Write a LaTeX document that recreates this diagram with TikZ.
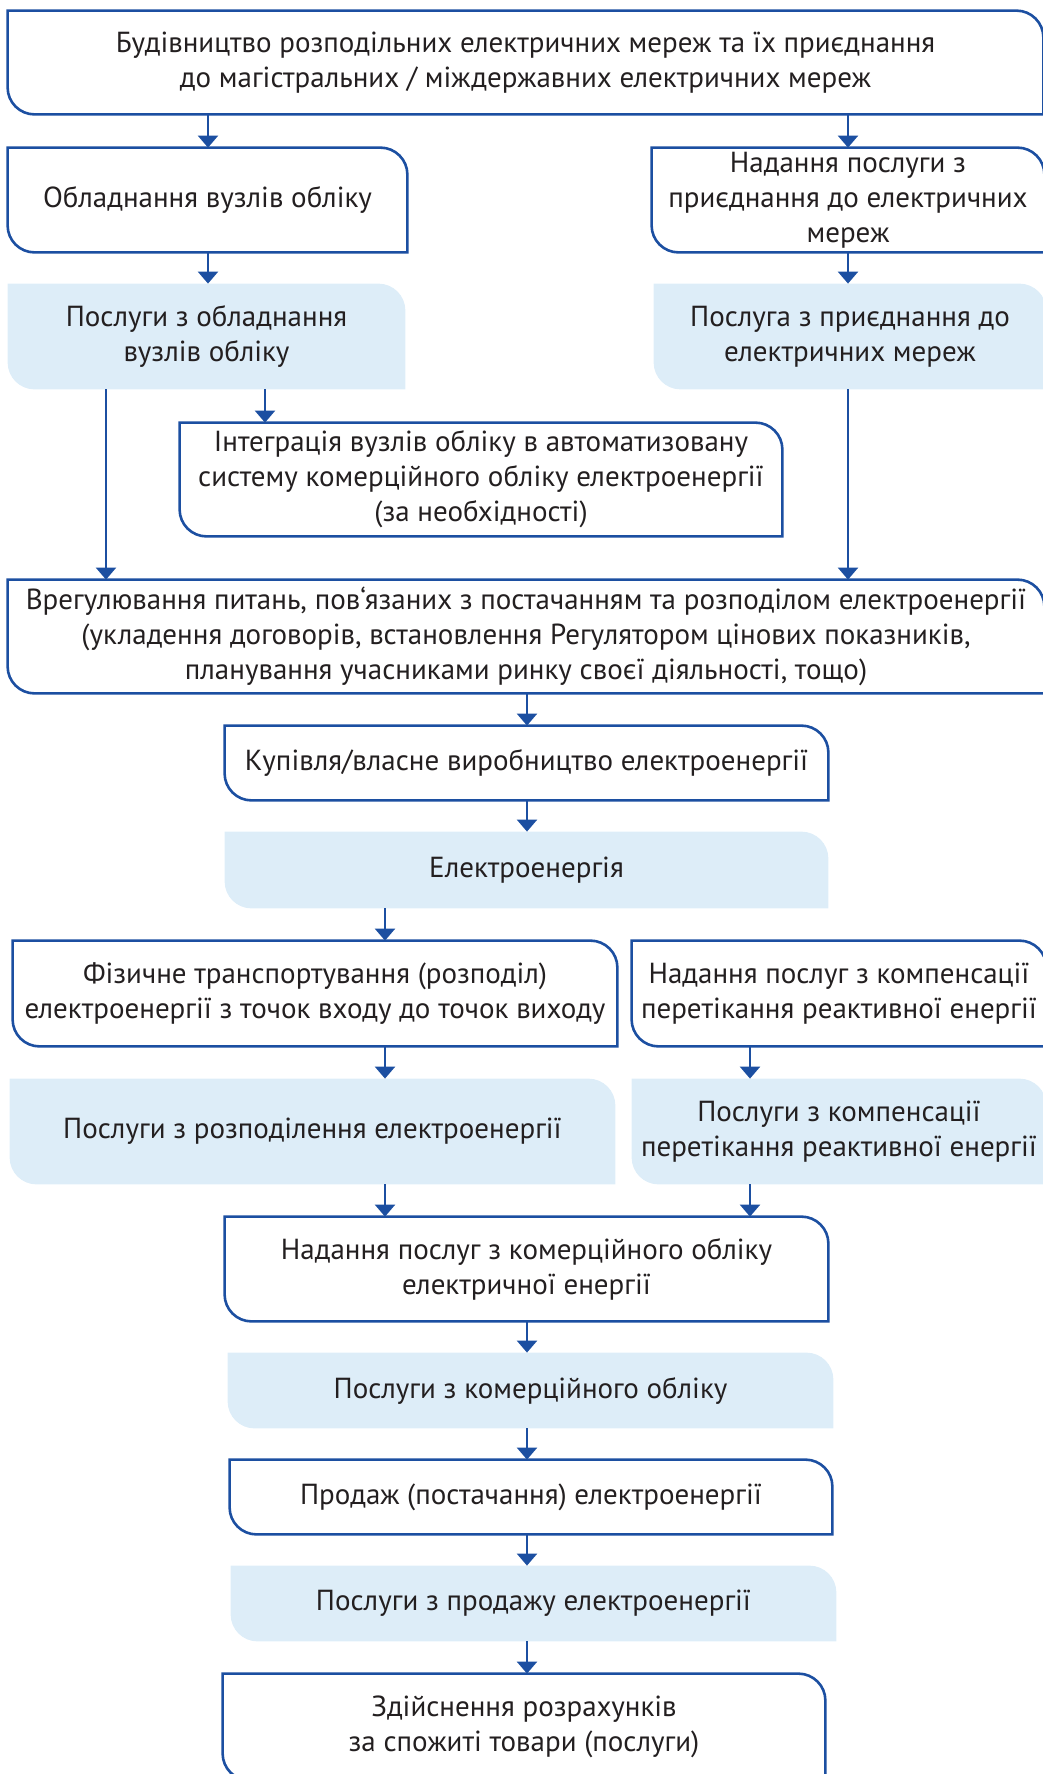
\documentclass[tikz,border=0pt]{standalone}
\usepackage{fontspec}
\setmainfont{PT Sans}
\usetikzlibrary{arrows.meta,backgrounds}

\definecolor{lineblue}{HTML}{1C4FA1}
\definecolor{boxfill}{HTML}{DDEDF8}
\definecolor{textgray}{HTML}{231F20}

\tikzset{
  box/.style={inner sep=0pt,align=center,text=textgray,font=\fontsize{14.5}{17.5}\selectfont},
  outline/.style={draw=lineblue,line width=1.3pt},
  flow/.style={draw=lineblue,line width=1.2pt,-{Triangle[width=10pt,length=6pt]}}
}

% box with rounded top right and bottom left corners
\newcommand\boxpath[1]{(#1.north west) -- ([xshift=-13.5pt]#1.north east)
  arc[start angle=90,end angle=0,radius=13.5pt] -- (#1.south east)
  -- ([xshift=13.5pt]#1.south west) arc[start angle=270,end angle=180,radius=13.5pt] -- cycle}

\begin{document}
\begin{tikzpicture}[x=0.5pt,y=-0.5pt]
        \useasboundingbox (0,0) rectangle (1043,1774);

        \begin{scope}[every node/.style={box}]
          \node[minimum width=517.5pt,minimum height=51.5pt] (1) at (525.5,62.5)
            {Будівництво розподільних електричних мереж та їх приєднання\\до магістральних / міждержавних електричних мереж};
          \node[minimum width=199.5pt,minimum height=52pt] (2) at (207.5,200) {Обладнання вузлів обліку};
          \node[minimum width=196pt,minimum height=52pt] (3) at (848,200)
            {Надання послуги з\\приєднання до електричних\\мереж};
          \node[minimum width=198.5pt,minimum height=52.5pt] (4) at (206.5,336.5) {Послуги з обладнання\\вузлів обліку};
          \node[minimum width=196pt,minimum height=52.5pt] (5) at (850,336.5) {Послуга з приєднання до\\електричних мереж};
          \node[minimum width=301pt,minimum height=56.5pt] (6) at (481,479.5)
            {Інтеграція вузлів обліку в автоматизовану\\систему комерційного обліку електроенергії\\(за необхідності)};
          \node[minimum width=518pt,minimum height=56.5pt] (7) at (526,636.5)
            {Врегулювання питань, пов`язаних з постачанням та розподілом електроенергії\\(укладення договорів, встановлення Регулятором цінових показників,\\планування учасниками ринку своєї діяльності, тощо)};
          \node[minimum width=301.5pt,minimum height=37pt] (8) at (526.5,763) {Купівля/власне виробництво електроенергії};
          \node[minimum width=301.5pt,minimum height=38pt] (9) at (526.5,870) {Електроенергія};
          \node[minimum width=302pt,minimum height=52.5pt] (10) at (315,993.5)
            {Фізичне транспортування (розподіл)\\електроенергії з точок входу до точок виходу};
          \node[minimum width=207pt,minimum height=52.5pt] (11) at (839,993.5)
            {Надання послуг з компенсації\\перетікання реактивної енергії};
          \node[minimum width=302.5pt,minimum height=52.5pt] (12) at (312.5,1131.5) {Послуги з розподілення електроенергії};
          \node[minimum width=207pt,minimum height=52.5pt] (13) at (839,1131.5)
            {Послуги з компенсації\\перетікання реактивної енергії};
          \node[minimum width=301.5pt,minimum height=52pt] (14) at (526.5,1269)
            {Надання послуг з комерційного обліку\\електричної енергії};
          \node[minimum width=302.5pt,minimum height=37.5pt] (15) at (530.5,1390.5) {Послуги з комерційного обліку};
          \node[minimum width=301pt,minimum height=37pt] (16) at (531,1497) {Продаж (постачання) електроенергії};
          \node[minimum width=302.5pt,minimum height=37.5pt] (17) at (533.5,1603.5) {Послуги з продажу електроенергії};
          \node[minimum width=301pt,minimum height=53pt] (18) at (524,1727)
            {Здійснення розрахунків\\за спожиті товари (послуги)};
        \end{scope}

        % light blue boxes
        \begin{scope}[on background layer]
          \foreach \n in {4,5,9,12,13,15,17}
            \fill[boxfill] \boxpath{\n};
        \end{scope}

        % white boxes
        \foreach \n in {1,2,3,6,7,8,10,11,14,16,18}
          \draw[outline] \boxpath{\n};

        \coordinate (ca) at (208,0);
        \coordinate (cb) at (848,0);
        \coordinate (cc) at (265,0);
        \coordinate (cd) at (106,0);
        \coordinate (ce) at (527,0);
        \coordinate (cf) at (385,0);
        \coordinate (cg) at (750,0);

        \draw[flow] (1.south -| ca) -- (2.north -| ca);
        \draw[flow] (1.south -| cb) -- (3.north -| cb);
        \draw[flow] (2.south -| ca) -- (4.north -| ca);
        \draw[flow] (3.south -| cb) -- (5.north -| cb);
        \draw[flow] (4.south -| cc) -- (6.north -| cc);
        \draw[flow] (4.south -| cd) -- (7.north -| cd);
        \draw[flow] (5.south -| cb) -- (7.north -| cb);
        \draw[flow] (7.south -| ce) -- (8.north -| ce);
        \draw[flow] (8.south -| ce) -- (9.north -| ce);
        \draw[flow] (9.south -| cf) -- (10.north -| cf);
        \draw[flow] (10.south -| cf) -- (12.north -| cf);
        \draw[flow] (11.south -| cg) -- (13.north -| cg);
        \draw[flow] (12.south -| cf) -- (14.north -| cf);
        \draw[flow] (13.south -| cg) -- (14.north -| cg);
        \foreach \a/\b in {14/15,15/16,16/17,17/18}
          \draw[flow] (\a.south -| ce) -- (\b.north -| ce);

      \end{tikzpicture}
\end{document}
